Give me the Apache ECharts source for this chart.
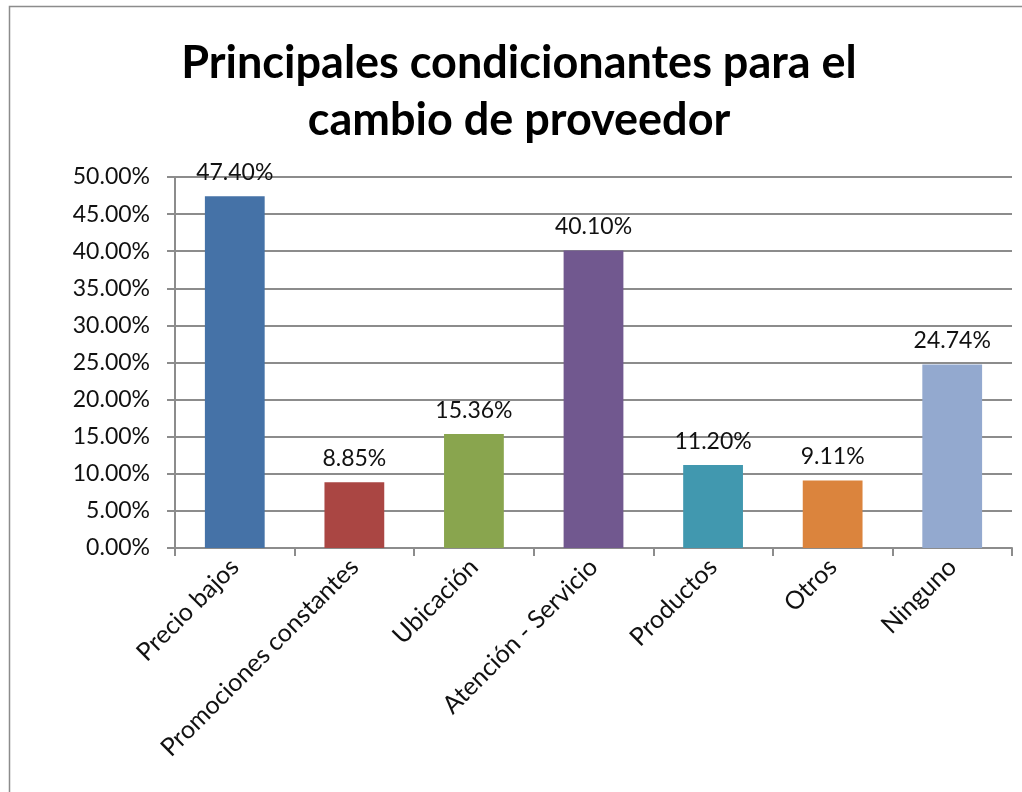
<!DOCTYPE html>
<html>
<head>
<meta charset="utf-8">
<script src="https://cdn.jsdelivr.net/npm/echarts@6/dist/echarts.min.js"></script>
<style>
  html, body { margin: 0; padding: 0; background: #fff; }
  #chart { width: 1022px; height: 792px; }
</style>
</head>
<body>
<div id="chart"></div>
<script>
// datos
const categorias = ['Precio bajos', 'Promociones constantes', 'Ubicación', 'Atención - Servicio', 'Productos', 'Otros', 'Ninguno'];
const valores = [0.4740, 0.0885, 0.1536, 0.4010, 0.1120, 0.0911, 0.2474];
const colores = ['#4572A7', '#AA4643', '#89A54E', '#71588F', '#4198AF', '#DB843D', '#93A9CF'];
const titulo = 'Principales condicionantes para el\ncambio de proveedor';

const myChart = echarts.init(document.getElementById('chart'));

const option = {
  animation: false,
  backgroundColor: '#fff',
  title: {
    text: titulo,
    left: 514,
    top: 30,
    textAlign: 'center',
    textStyle: {
      fontFamily: 'Lato',
      fontWeight: 'bold',
      fontSize: 45,
      lineHeight: 57,
      color: '#000'
    }
  },
  graphic: [{
    type: 'rect',
    shape: { x: 9.5, y: 6.5, width: 1030, height: 800 },
    style: { fill: 'none', stroke: '#8c8c8c', lineWidth: 1.5 },
    silent: true
  }],
  grid: { left: 175, right: 10, top: 177, bottom: 244 },
  xAxis: {
    type: 'category',
    data: categorias,
    axisLine: { lineStyle: { color: '#8c8c8c', width: 2 } },
    axisTick: { show: true, length: 8, lineStyle: { color: '#8c8c8c', width: 2 } },
    axisLabel: {
      interval: 0,
      rotate: 45,
      margin: 15,
      fontFamily: 'Lato',
      fontSize: 25,
      color: '#111'
    }
  },
  yAxis: {
    type: 'value',
    min: 0,
    max: 0.5,
    interval: 0.05,
    axisLine: { show: true, lineStyle: { color: '#8c8c8c', width: 2 } },
    axisTick: { show: true, length: 8, lineStyle: { color: '#8c8c8c', width: 2 } },
    splitLine: { lineStyle: { color: '#8c8c8c', width: 2 } },
    axisLabel: {
      margin: 25,
      fontFamily: 'Lato',
      fontSize: 23,
      color: '#111',
      formatter: v => (v * 100).toFixed(2) + '%'
    }
  },
  series: [{
    type: 'bar',
    barCategoryGap: '50%',
    data: valores.map((v, i) => ({ value: v, itemStyle: { color: colores[i] } })),
    label: {
      show: true,
      position: 'top',
      distance: 12,
      fontFamily: 'Lato',
      fontSize: 23,
      color: '#111',
      formatter: p => (p.value * 100).toFixed(2) + '%'
    }
  }]
};

myChart.setOption(option);
window.onresize = myChart.resize;
</script>
</body>
</html>
